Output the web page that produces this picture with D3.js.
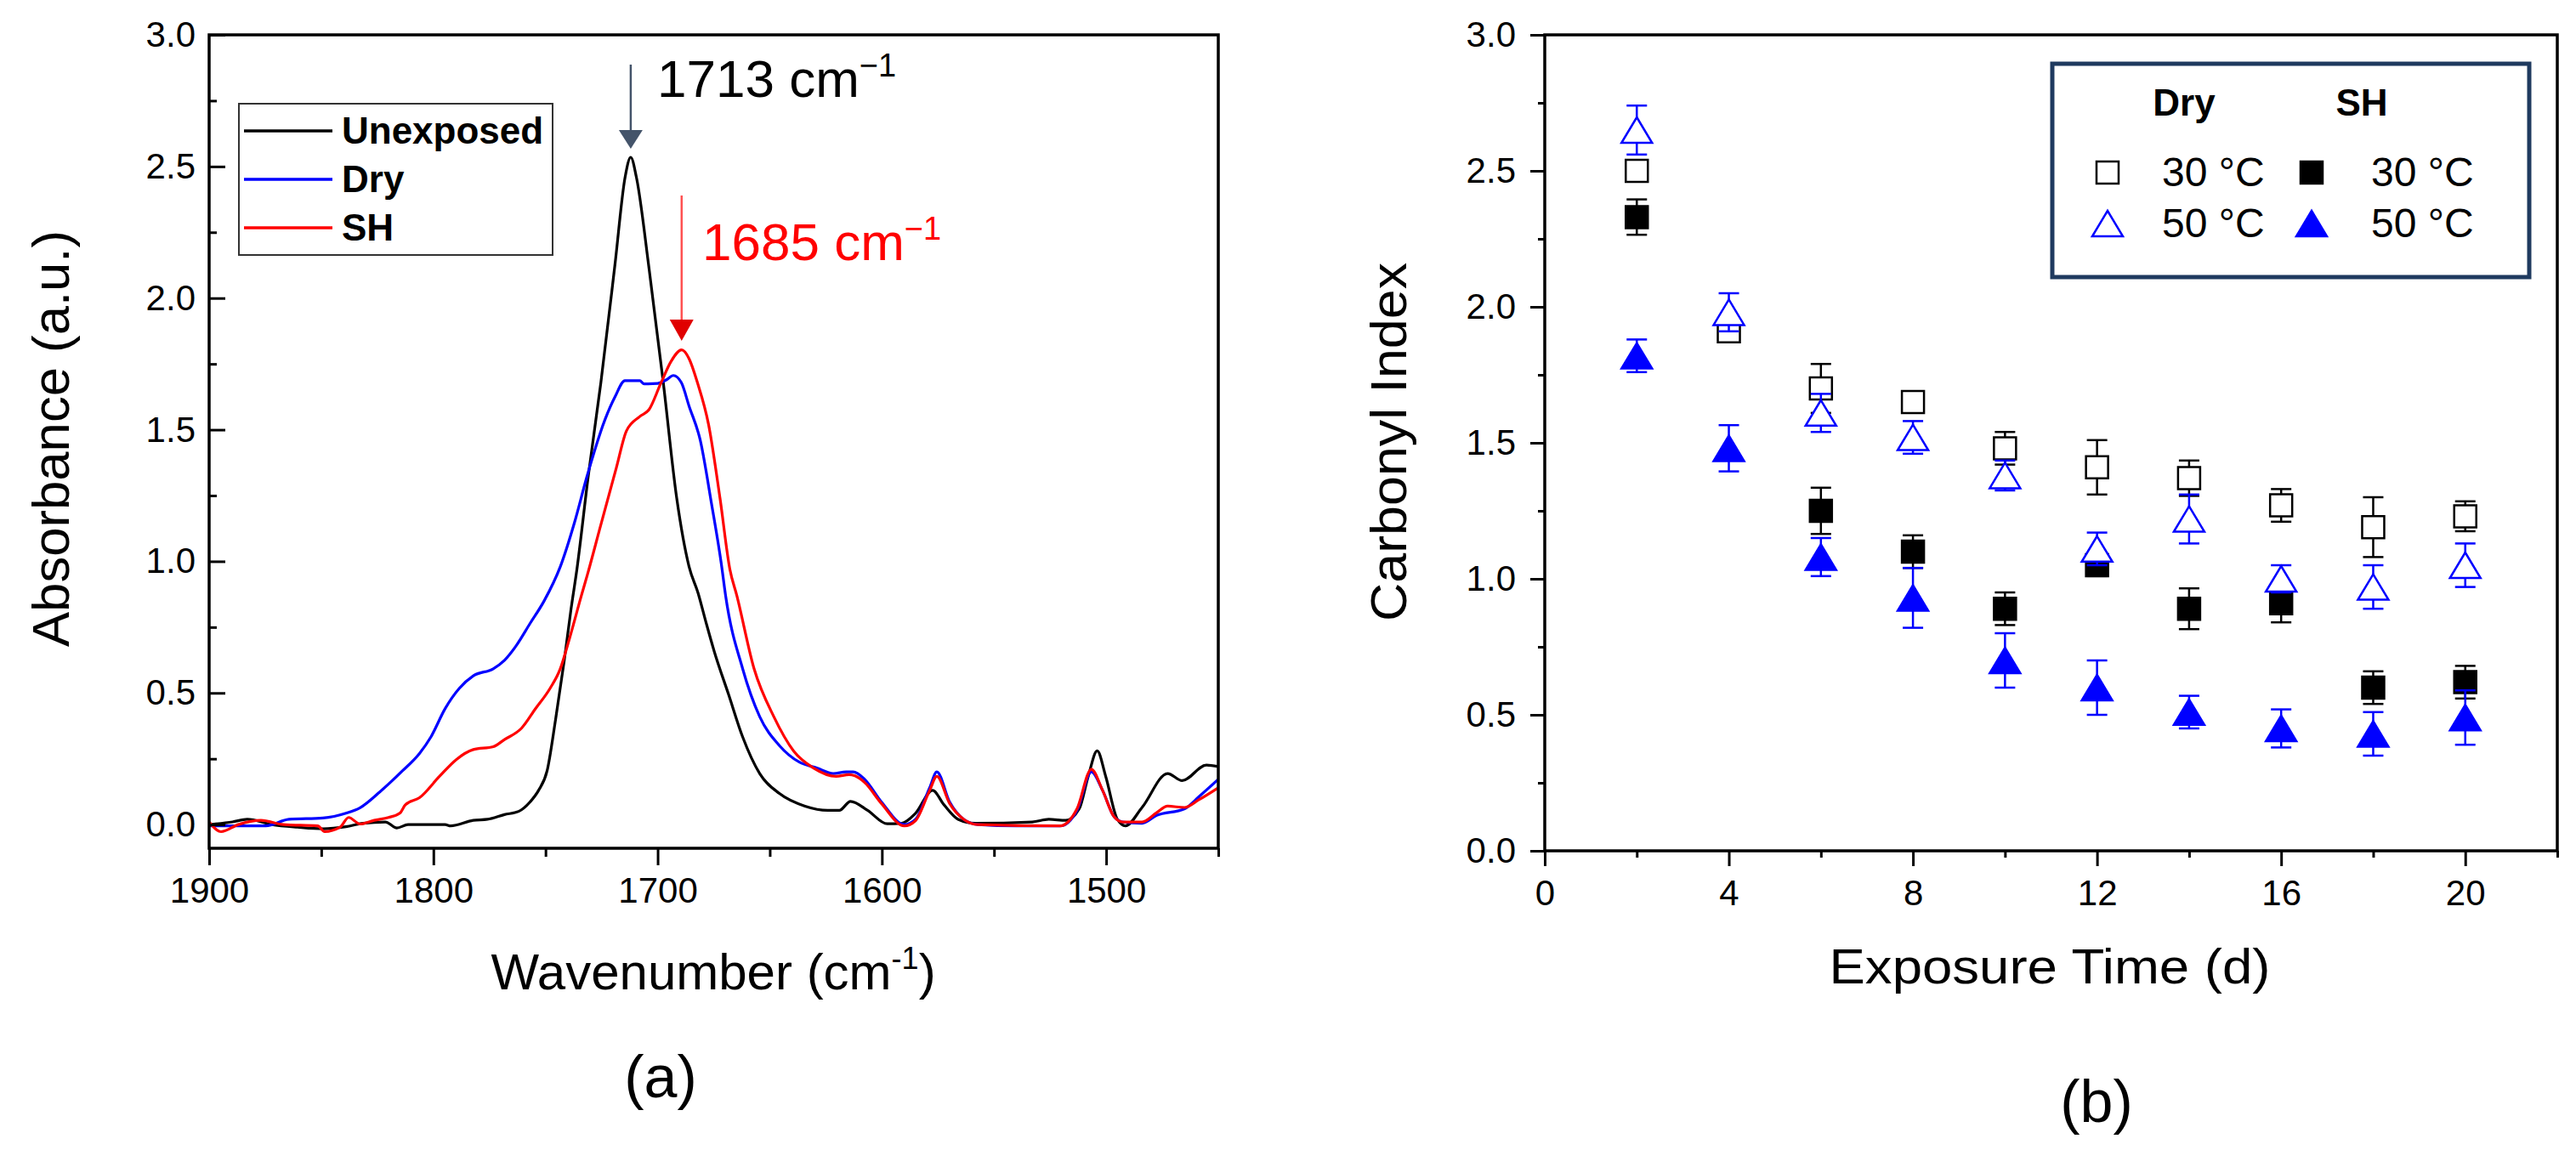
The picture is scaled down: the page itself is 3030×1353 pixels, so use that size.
<!DOCTYPE html>
<html lang="en">
<head>
  <meta charset="utf-8">
  <title>FTIR spectra and carbonyl index</title>
  <script src="https://cdn.jsdelivr.net/npm/d3@7"></script>
  <style>
  body { margin: 0; background: #fff; }
  text { font-family: "Liberation Sans", Arial, sans-serif; }
  .tick line { stroke: #000; stroke-width: 3; }
  .tick text { font-size: 42px; fill: #000; }
  </style>
</head>
<body>
<script>
// ---- panel (a) spectra: [wavenumber, absorbance]
var unexposed = [[1900,0.0],[1889.6,0.01],[1883,0.02],[1872,0.0],[1860.6,-0.01],[1849.2,-0.016],[1839,-0.008],
  [1831.4,0.005],[1821.4,0.01],[1816.3,-0.013],[1811.3,0.0],[1794.8,0.0],[1792.3,-0.005],[1782.2,0.016],
  [1775.9,0.02],[1768.3,0.038],[1762,0.05],[1756.9,0.086],[1753.1,0.13],[1749.3,0.204],[1745.5,0.40],
  [1741.7,0.62],[1738.6,0.82],[1736,0.97],[1731,1.32],[1725.3,1.68],[1719,2.13],[1714.5,2.46],[1712,2.535],
  [1709.5,2.46],[1703.8,2.11],[1697.5,1.68],[1691.5,1.24],[1686,0.98],[1682,0.88],[1678.5,0.77],[1674.7,0.656],
  [1668.4,0.495],[1662.1,0.333],[1654.5,0.194],[1645.7,0.118],[1634.3,0.07],[1624.2,0.054],[1619,0.054],
  [1614,0.088],[1606.4,0.054],[1597.6,0.003],[1591.2,0.005],[1585,0.043],[1577.4,0.13],[1572.3,0.075],
  [1566,0.02],[1558.4,0.005],[1533,0.01],[1525.6,0.02],[1518,0.016],[1512,0.06],[1508,0.183],[1504,0.28],
  [1500.2,0.183],[1495,0.02],[1491.4,-0.005],[1484,0.065],[1472.6,0.194],[1466.1,0.167],[1455.3,0.226],[1450,0.22]];

var dry = [[1900,-0.005],[1887,-0.005],[1874.7,-0.005],[1864.4,0.02],[1849.2,0.025],[1839,0.043],[1832.7,0.064],
  [1823.9,0.124],[1813.8,0.204],[1806.2,0.27],[1801.1,0.333],[1794.8,0.44],[1788.5,0.517],[1782.2,0.565],
  [1773.3,0.592],[1768.3,0.624],[1763.2,0.678],[1756.9,0.764],[1750.6,0.85],[1743.4,0.98],[1737,1.15],
  [1731.6,1.32],[1723.4,1.54],[1719,1.625],[1714.6,1.686],[1708,1.686],[1706,1.674],[1700,1.676],[1696,1.69],
  [1693,1.706],[1689.5,1.68],[1686,1.59],[1681,1.46],[1676,1.22],[1671.6,0.99],[1669.7,0.87],[1662.1,0.592],
  [1654.5,0.41],[1645.7,0.30],[1636.8,0.237],[1629,0.215],[1621.7,0.194],[1616,0.2],[1612.8,0.2],
  [1607.7,0.172],[1600.2,0.086],[1590,0.0],[1585,0.02],[1578.7,0.14],[1575.5,0.2],[1569.8,0.086],
  [1563.5,0.02],[1557.2,0.0],[1540,-0.005],[1520.5,-0.005],[1513,0.054],[1506.6,0.2],[1501.6,0.13],
  [1496.5,0.03],[1492.7,0.01],[1484,0.005],[1477.5,0.035],[1465,0.06],[1458.5,0.107],[1450,0.172]];

var sh = [[1900,0.01],[1894.7,-0.027],[1887,0.0],[1876.9,0.016],[1866.8,0.0],[1851.6,-0.005],[1848.5,-0.027],
  [1841.6,-0.01],[1837.8,0.027],[1832.7,0.002],[1826.4,0.016],[1820,0.027],[1815,0.043],[1812.5,0.075],
  [1806.2,0.102],[1797.3,0.183],[1789.8,0.247],[1782.2,0.285],[1773.3,0.296],[1768.3,0.323],[1760.7,0.366],
  [1754.4,0.441],[1748,0.517],[1743.5,0.59],[1739.2,0.71],[1734,0.87],[1731.3,0.95],[1725.3,1.14],
  [1718.4,1.356],[1713.9,1.496],[1708,1.55],[1703.8,1.577],[1698.7,1.674],[1694,1.76],[1689.3,1.803],
  [1686,1.77],[1682.3,1.68],[1677.3,1.52],[1672.2,1.24],[1667.8,0.97],[1664.7,0.87],[1657,0.592],
  [1648.2,0.41],[1639.4,0.28],[1630.5,0.215],[1620.4,0.183],[1614.6,0.19],[1612,0.185],[1607.7,0.16],
  [1600.2,0.08],[1590,-0.005],[1585,0.015],[1578.7,0.13],[1575.5,0.183],[1569.8,0.08],[1563.5,0.02],
  [1557.2,0.0],[1520.5,-0.005],[1513,0.06],[1506.6,0.21],[1501.6,0.13],[1496.5,0.03],[1492.7,0.01],
  [1484,0.01],[1477.5,0.045],[1472.6,0.07],[1465,0.065],[1458.5,0.095],[1450,0.14]];

var wnTicks = [1900, 1800, 1700, 1600, 1500];
var wnMinor = [1850, 1750, 1650, 1550, 1450];
var absTicks = [0, 0.5, 1.0, 1.5, 2.0, 2.5, 3.0];
var absMinor = [0.25, 0.75, 1.25, 1.75, 2.25, 2.75];

// ---- panel (b) carbonyl index
var days = [2, 4, 6, 8, 10, 12, 14, 16, 18, 20];
var dry30 = [2.50, 1.91, 1.70, 1.65, 1.48, 1.41, 1.37, 1.27, 1.19, 1.23];
var dry30Err = [0.02, 0.04, 0.09, 0.02, 0.06, 0.10, 0.065, 0.06, 0.11, 0.055];
var dry50 = [2.65, 1.98, 1.61, 1.52, 1.38, 1.11, 1.22, 1.00, 0.97, 1.05];
var dry50Err = [0.09, 0.07, 0.07, 0.06, 0.055, 0.06, 0.09, 0.05, 0.08, 0.08];
var sh30 = [2.33, null, 1.25, 1.10, 0.89, 1.05, 0.89, 0.91, 0.60, 0.62];
var sh30Err = [0.065, null, 0.085, 0.06, 0.06, 0.04, 0.075, 0.07, 0.06, 0.06];
var sh50 = [1.82, 1.48, 1.08, 0.93, 0.70, 0.60, 0.51, 0.45, 0.43, 0.49];
var sh50Err = [0.06, 0.085, 0.07, 0.11, 0.10, 0.10, 0.06, 0.07, 0.08, 0.10];

var dayTicks = [0, 4, 8, 12, 16, 20];
var dayMinor = [2, 6, 10, 14, 18, 22];
var ciTicks = [0, 0.5, 1.0, 1.5, 2.0, 2.5, 3.0];
var ciMinor = [0.25, 0.75, 1.25, 1.75, 2.25, 2.75];

var width = 3030, height = 1353;
var svg = d3.select("body").append("svg")
  .attr("width", width).attr("height", height);
svg.append("rect").attr("width", width).attr("height", height).attr("fill", "#fff");

// ================= panel (a)
var xA = d3.scaleLinear().domain([1900, 1450]).range([246, 1433]);
var yA = d3.scaleLinear().domain([-0.09, 3.0]).range([998, 41]);

var pa = svg.append("g");
pa.append("clipPath").attr("id", "clipA").append("rect")
  .attr("x", 246).attr("y", 41).attr("width", 1433 - 246).attr("height", 998 - 41);

var line = d3.line()
  .x(function(d) { return xA(d[0]); })
  .y(function(d) { return yA(d[1]); })
  .curve(d3.curveMonotoneX);

var spectra = [
  {name: "Unexposed", data: unexposed, color: "#000000"},
  {name: "Dry", data: dry, color: "#0000ff"},
  {name: "SH", data: sh, color: "#ff0000"}
];

pa.append("g").attr("clip-path", "url(#clipA)")
  .selectAll("path").data(spectra).enter().append("path")
  .attr("d", function(d) { return line(d.data); })
  .attr("fill", "none")
  .attr("stroke", function(d) { return d.color; })
  .attr("stroke-width", 3.2)
  .attr("stroke-linejoin", "round");

// axes
pa.append("g").attr("transform", "translate(0,998)")
  .call(d3.axisBottom(xA).tickValues(wnTicks).tickSize(20).tickPadding(14).tickFormat(d3.format("d")))
  .call(function(g) { g.select(".domain").remove(); });
pa.append("g").attr("transform", "translate(0,998)")
  .call(d3.axisBottom(xA).tickValues(wnMinor).tickSize(10).tickFormat(""))
  .call(function(g) { g.select(".domain").remove(); });
pa.append("g").attr("transform", "translate(246,0)")
  .call(d3.axisLeft(yA).tickValues(absTicks).tickSize(-19).tickPadding(16).tickFormat(d3.format(".1f")))
  .call(function(g) { g.select(".domain").remove(); });
pa.append("g").attr("transform", "translate(246,0)")
  .call(d3.axisLeft(yA).tickValues(absMinor).tickSize(-9).tickFormat(""))
  .call(function(g) { g.select(".domain").remove(); });

pa.append("rect")
  .attr("x", 246).attr("y", 41).attr("width", 1433 - 246).attr("height", 998 - 41)
  .attr("fill", "none").attr("stroke", "#000").attr("stroke-width", 3.5);

// legend (a)
var legA = pa.append("g");
legA.append("rect").attr("x", 281).attr("y", 122).attr("width", 369).attr("height", 178)
  .attr("fill", "#fff").attr("stroke", "#333").attr("stroke-width", 2);
spectra.forEach(function(s, i) {
  var yy = 154 + i * 57;
  legA.append("line").attr("x1", 287).attr("x2", 391).attr("y1", yy).attr("y2", yy)
    .attr("stroke", s.color).attr("stroke-width", 3.5);
  legA.append("text").attr("x", 402).attr("y", yy + 15)
    .attr("font-size", 44).attr("font-weight", "bold").text(s.name);
});

// peak annotations
var arrowA = pa.append("g");
arrowA.append("line").attr("x1", xA(1712)).attr("x2", xA(1712)).attr("y1", 76).attr("y2", 158)
  .attr("stroke", "#44546a").attr("stroke-width", 2.5);
arrowA.append("path")
  .attr("d", d3.line()([[xA(1712) - 14, 153], [xA(1712) + 14, 153], [xA(1712), 175]]))
  .attr("fill", "#44546a");
var t1 = pa.append("text").attr("x", 773).attr("y", 114).attr("font-size", 62).attr("fill", "#000");
t1.append("tspan").text("1713 cm");
t1.append("tspan").attr("dy", -24).attr("font-size", 38).text("\u22121");

arrowA.append("line").attr("x1", xA(1689.3)).attr("x2", xA(1689.3)).attr("y1", 230).attr("y2", 380)
  .attr("stroke", "#ff5050").attr("stroke-width", 2.5);
arrowA.append("path")
  .attr("d", d3.line()([[xA(1689.3) - 14, 376], [xA(1689.3) + 14, 376], [xA(1689.3), 401]]))
  .attr("fill", "#e00000");
var t2 = pa.append("text").attr("x", 826).attr("y", 306).attr("font-size", 62).attr("fill", "#ff0000");
t2.append("tspan").text("1685 cm");
t2.append("tspan").attr("dy", -24).attr("font-size", 38).text("\u22121");

// titles (a)
pa.append("text").attr("transform", "translate(81,516) rotate(-90)")
  .attr("text-anchor", "middle").attr("font-size", 62).attr("textLength", 490)
  .attr("lengthAdjust", "spacingAndGlyphs").text("Absorbance (a.u.)");
var xt = pa.append("text").attr("x", 839).attr("y", 1164).attr("text-anchor", "middle").attr("font-size", 60);
xt.append("tspan").text("Wavenumber (cm");
xt.append("tspan").attr("dy", -24).attr("font-size", 36).text("-1");
xt.append("tspan").attr("dy", 24).text(")");
pa.append("text").attr("x", 777).attr("y", 1291).attr("text-anchor", "middle")
  .attr("font-size", 70).text("(a)");

// ================= panel (b)
var xB = d3.scaleLinear().domain([0, 22]).range([1817, 3008]);
var yB = d3.scaleLinear().domain([0, 3]).range([1001, 41]);
var pb = svg.append("g");

pb.append("g").attr("transform", "translate(0,1001)")
  .call(d3.axisBottom(xB).tickValues(dayTicks).tickSize(18).tickPadding(16).tickFormat(d3.format("d")))
  .call(function(g) { g.select(".domain").remove(); });
pb.append("g").attr("transform", "translate(0,1001)")
  .call(d3.axisBottom(xB).tickValues(dayMinor).tickSize(8).tickFormat(""))
  .call(function(g) { g.select(".domain").remove(); });
pb.append("g").attr("transform", "translate(1817,0)")
  .call(d3.axisLeft(yB).tickValues(ciTicks).tickSize(17).tickPadding(17).tickFormat(d3.format(".1f")))
  .call(function(g) { g.select(".domain").remove(); });
pb.append("g").attr("transform", "translate(1817,0)")
  .call(d3.axisLeft(yB).tickValues(ciMinor).tickSize(8).tickFormat(""))
  .call(function(g) { g.select(".domain").remove(); });

pb.append("rect")
  .attr("x", 1817).attr("y", 41).attr("width", 3008 - 1817).attr("height", 1001 - 41)
  .attr("fill", "none").attr("stroke", "#000").attr("stroke-width", 3.5);

var sqPath = "M-13,-13H13V13H-13Z";
var triPath = "M0,-15L18,15H-18Z";

var series = [
  {vals: sh30, errs: sh30Err, shape: sqPath, color: "#000", fill: "#000"},
  {vals: sh50, errs: sh50Err, shape: triPath, color: "#0000ff", fill: "#0000ff"},
  {vals: dry30, errs: dry30Err, shape: sqPath, color: "#000", fill: "#fff"},
  {vals: dry50, errs: dry50Err, shape: triPath, color: "#0000ff", fill: "#fff"}
];

series.forEach(function(s) {
  var pts = days.map(function(d, i) { return {t: d, v: s.vals[i], e: s.errs[i]}; })
    .filter(function(p) { return p.v !== null; });
  var g = pb.append("g");
  var eb = g.selectAll(".eb").data(pts).enter().append("g")
    .attr("stroke", s.color).attr("stroke-width", 2.5);
  eb.append("line")
    .attr("x1", function(p) { return xB(p.t); }).attr("x2", function(p) { return xB(p.t); })
    .attr("y1", function(p) { return yB(p.v + p.e); }).attr("y2", function(p) { return yB(p.v - p.e); });
  eb.append("line")
    .attr("x1", function(p) { return xB(p.t) - 12; }).attr("x2", function(p) { return xB(p.t) + 12; })
    .attr("y1", function(p) { return yB(p.v + p.e); }).attr("y2", function(p) { return yB(p.v + p.e); });
  eb.append("line")
    .attr("x1", function(p) { return xB(p.t) - 12; }).attr("x2", function(p) { return xB(p.t) + 12; })
    .attr("y1", function(p) { return yB(p.v - p.e); }).attr("y2", function(p) { return yB(p.v - p.e); });
  g.selectAll(".mk").data(pts).enter().append("path")
    .attr("d", s.shape)
    .attr("transform", function(p) { return "translate(" + xB(p.t) + "," + yB(p.v) + ")"; })
    .attr("fill", s.fill).attr("stroke", s.color).attr("stroke-width", 2.5);
});

// legend (b)
var legB = pb.append("g");
legB.append("rect").attr("x", 2414).attr("y", 75).attr("width", 561).attr("height", 251)
  .attr("fill", "#fff").attr("stroke", "#1f3a5f").attr("stroke-width", 5);
legB.append("text").attr("x", 2569).attr("y", 136).attr("text-anchor", "middle")
  .attr("font-size", 44).attr("font-weight", "bold").text("Dry");
legB.append("text").attr("x", 2778).attr("y", 136).attr("text-anchor", "middle")
  .attr("font-size", 44).attr("font-weight", "bold").text("SH");
var legItems = [
  {x: 2479, y: 203, shape: sqPath, color: "#000", fill: "#fff", label: "30 \u00b0C"},
  {x: 2479, y: 263, shape: triPath, color: "#0000ff", fill: "#fff", label: "50 \u00b0C"},
  {x: 2719, y: 203, shape: sqPath, color: "#000", fill: "#000", label: "30 \u00b0C"},
  {x: 2719, y: 263, shape: triPath, color: "#0000ff", fill: "#0000ff", label: "50 \u00b0C"}
];
legItems.forEach(function(it) {
  legB.append("path").attr("d", it.shape)
    .attr("transform", "translate(" + it.x + "," + it.y + ")")
    .attr("fill", it.fill).attr("stroke", it.color).attr("stroke-width", 2.5);
  legB.append("text").attr("x", it.x + (it.x < 2600 ? 64 : 70)).attr("y", it.y + 16)
    .attr("font-size", 48).text(it.label);
});

// titles (b)
pb.append("text").attr("transform", "translate(1654,520) rotate(-90)")
  .attr("text-anchor", "middle").attr("font-size", 60).attr("textLength", 422)
  .attr("lengthAdjust", "spacingAndGlyphs").text("Carbonyl Index");
pb.append("text").attr("x", 2411).attr("y", 1157).attr("text-anchor", "middle")
  .attr("font-size", 58).attr("textLength", 519).attr("lengthAdjust", "spacingAndGlyphs")
  .text("Exposure Time (d)");
pb.append("text").attr("x", 2466).attr("y", 1320).attr("text-anchor", "middle")
  .attr("font-size", 70).text("(b)");
</script>
</body>
</html>
